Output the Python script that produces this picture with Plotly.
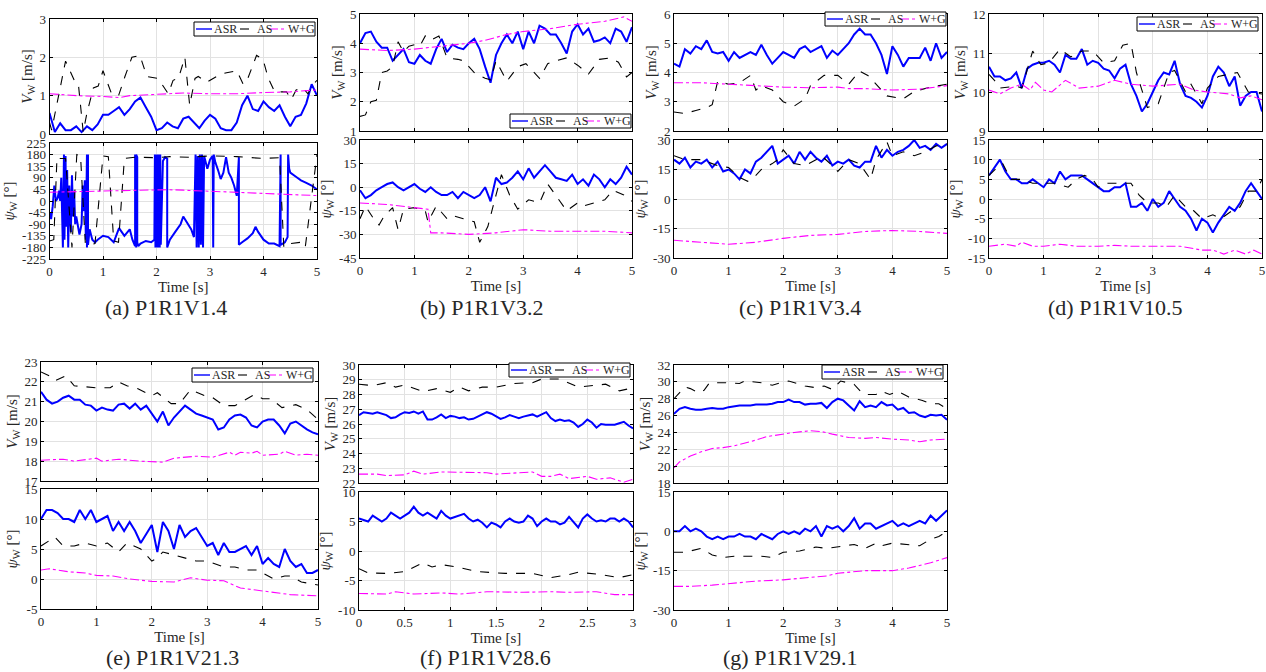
import numpy as np
import plotly.graph_objects as go

W, H = 1266, 672

# ---------------- time grids (x positions of densely sampled ASR series) ----------------
T5 = np.round(np.linspace(0, 5, 51), 2)
T3 = np.round(np.linspace(0, 3, 61), 2)

# ---------------- (a) P1R1V1.4 ----------------
a_V_asr = [0.55,0.05,0.28,0.1,0.1,0.2,0.05,0.2,0.1,0.25,0.5,0.5,0.6,0.7,0.5,0.65,0.85,0.95,0.7,0.45,
           0.1,0.15,0.3,0.2,0.15,0.4,0.45,0.3,0.15,0.35,0.5,0.4,0.15,0.1,0.1,0.3,0.75,1.0,0.65,0.6,
           0.85,0.7,0.6,0.75,0.45,0.2,0.45,0.5,0.8,1.3,1.0]
a_V_as_t = [0.0,0.04,0.3,0.48,0.54,0.63,0.7,0.82,0.91,1.0,1.16,1.29,1.41,1.54,1.69,1.82,2.03,2.22,2.31,2.41,
            2.53,2.62,2.72,2.78,2.94,3.06,3.18,3.31,3.5,3.62,3.68,3.87,3.99,4.09,4.21,4.37,4.43,4.52,4.61,4.74,
            4.83,4.93,5.0]
a_V_as = [0.3,0.1,1.9,1.35,1.3,0.05,0.55,1.2,1.25,1.65,1.05,1.0,1.5,2.0,2.05,1.5,1.45,1.05,1.4,1.45,
          2.0,0.75,1.45,1.5,1.35,1.45,1.55,1.6,1.65,1.3,1.35,2.05,1.95,1.45,1.1,1.1,1.1,0.9,1.15,1.2,
          1.05,1.3,1.4]
a_V_wg_t = [0,0.5,1.0,1.3,1.5,2.0,2.5,3.0,3.5,4.0,4.5,5.0]
a_V_wg = [1.05,1.0,0.98,0.95,1.0,1.04,1.07,1.05,1.05,1.08,1.1,1.15]

a_P_asr_t = [0,0.03,0.06,0.09,0.12,0.15,0.18,0.2,0.22,0.25,0.27,0.28,0.3,0.31,0.33,0.35,0.37,0.4,0.42,0.44,
             0.46,0.48,0.5,0.53,0.56,0.6,0.62,0.64,0.66,0.68,0.7,0.7,0.72,0.72,0.75,0.8,0.85,0.9,1.0,1.1,
             1.2,1.3,1.4,1.5,1.55,1.6,1.6,1.62,1.62,1.64,1.64,1.66,1.7,1.8,1.9,1.96,1.97,1.98,1.99,2.0,
             2.01,2.02,2.03,2.04,2.05,2.06,2.07,2.08,2.12,2.16,2.2,2.2,2.25,2.35,2.45,2.5,2.6,2.65,2.7,2.73,
             2.75,2.77,2.79,2.81,2.83,2.85,2.87,2.89,2.95,3.0,3.05,3.06,3.07,3.1,3.15,3.2,3.25,3.3,3.35,3.4,
             3.45,3.5,3.54,3.54,3.6,3.7,3.8,3.85,3.9,4.0,4.1,4.2,4.3,4.32,4.32,4.4,4.45,4.46,4.48,4.5,
             4.6,4.7,4.8,4.9,5.0]
a_P_asr = [-45,-70,-20,60,0,10,40,0,90,-180,180,-150,175,-100,120,-180,60,-120,100,-60,
           40,-90,-60,-100,-130,-90,60,-40,80,-150,180,-180,180,-170,-110,-150,-160,-150,-135,-140,
           -160,-105,-135,-110,-150,-175,180,-180,180,170,-160,-175,-165,-155,-160,-150,180,-180,180,-180,
           180,-180,180,-180,180,-180,180,-170,155,170,165,-180,-150,-120,-90,-60,-90,-110,-140,180,
           -180,175,-180,180,-170,180,-180,175,125,160,175,-180,180,150,120,85,110,170,110,90,
           60,20,170,-170,-160,-145,-125,-100,-120,-150,-165,-165,-175,180,-170,-160,-140,180,125,110,
           95,80,70,60,45]
a_P_as_t = [0,0.08,0.14,0.2,0.3,0.42,0.51,0.58,0.67,0.76,0.85,1.0,1.1,1.2,1.29,1.4,1.6,2.0,2.25,2.6,
            3.0,3.5,4.0,4.3,4.38,4.5,4.7,4.78,5.0]
a_P_as = [-155,-150,170,165,165,-180,180,175,-165,-170,-165,175,172,-155,-160,165,170,168,172,170,
          175,172,165,168,-180,-165,-160,-180,180]
a_P_wg_t = [0,0.5,1.0,1.5,2.0,2.2,2.5,3.0,3.5,4.0,4.5,5.0]
a_P_wg = [34,37,39,41,43,44,42,38,34,30,26,21]

# ---------------- (b) P1R1V3.2 ----------------
b_V_asr = [4.0,4.35,4.4,4.05,3.85,3.85,3.4,3.6,3.8,3.35,3.3,3.6,3.4,3.3,3.8,4.15,3.7,3.95,3.85,3.8,
           4.0,4.15,3.8,3.2,2.65,3.6,4.0,4.3,4.0,4.4,3.8,4.4,4.0,4.6,4.5,4.3,4.3,4.0,3.65,4.4,
           4.65,4.3,4.5,4.05,4.1,4.2,4.0,4.5,4.4,4.05,4.55]
b_V_as_t = [0,0.1,0.2,0.3,0.4,0.5,0.6,0.7,0.8,0.9,1.0,1.1,1.2,1.3,1.45,1.6,1.8,1.9,2.1,2.3,
            2.4,2.5,2.7,2.9,3.05,3.3,3.45,3.6,3.8,4.0,4.2,4.4,4.6,4.75,4.9,5.0]
b_V_as = [1.5,1.55,2.0,2.05,3.0,3.05,3.2,4.05,3.7,3.9,3.95,3.9,4.25,4.1,4.25,3.5,3.45,3.4,3.0,2.8,
          2.75,3.4,2.7,3.2,3.3,2.8,3.3,3.4,3.5,3.25,2.95,3.45,3.5,3.35,2.85,3.0]
b_V_wg_t = [0,0.5,1.0,1.5,2.0,2.3,2.7,3.0,3.5,4.0,4.5,4.85,5.0]
b_V_wg = [3.8,3.75,3.8,3.9,4.0,4.1,4.3,4.4,4.5,4.65,4.75,4.9,4.75]

b_P_asr = [-2,-7,-5,-2,0,2,3,0,-2,0,2,-1,-3,0,-3,-5,-5,-3,-7,-3,
           -5,-7,-5,0,-9,6,2,3,6,10,5,12,6,10,14,10,6,5,4,8,
           2,5,1,8,5,0,5,2,6,13,8]
b_P_as_t = [0,0.1,0.25,0.35,0.45,0.6,0.7,0.8,1.0,1.2,1.25,1.4,1.6,1.7,1.9,2.1,2.2,2.35,2.5,2.6,
            2.75,2.9,3.1,3.3,3.45,3.6,3.8,4.0,4.1,4.3,4.5,4.65,4.85,5.0]
b_P_as = [-20,-12,-20,-24,-18,-13,-27,-14,-13,-15,-22,-12,-20,-18,-20,-22,-35,-25,-5,8,
          -5,-14,-8,-10,2,-5,-15,-10,-12,-10,-8,-2,-5,-9]
b_P_wg_t = [0,0.5,1.0,1.25,1.3,1.5,2.0,2.5,3.0,3.5,4.0,4.5,5.0]
b_P_wg = [-10,-11,-13,-14,-29,-29,-30,-29,-27,-28,-28,-28,-29]

# ---------------- (c) P1R1V3.4 ----------------
c_V_asr = [4.3,4.2,4.8,4.65,4.9,4.8,5.1,4.7,4.65,4.7,4.4,4.7,4.5,4.6,4.7,4.6,4.95,4.6,4.3,4.5,
           4.7,4.6,4.5,4.8,4.9,4.7,4.8,4.9,4.5,4.75,4.6,4.8,5.0,5.3,5.5,5.3,5.3,5.0,4.6,3.95,
           4.9,4.6,4.2,4.5,4.5,4.5,4.85,4.4,5.0,4.5,4.7]
c_V_as_t = [0,0.2,0.4,0.6,0.7,0.8,1.0,1.2,1.4,1.5,1.6,1.8,2.0,2.2,2.4,2.5,2.75,3.0,3.2,3.4,
            3.55,3.7,3.9,4.2,4.4,4.7,5.0]
c_V_as = [2.65,2.6,2.7,2.8,2.9,3.7,3.6,3.65,3.9,3.4,3.55,3.4,3.0,2.85,3.1,3.55,3.9,3.9,3.6,4.05,
          3.9,3.6,3.2,3.1,3.35,3.5,3.6]
c_V_wg_t = [0,0.5,1.0,1.5,2.0,2.5,3.0,3.2,3.5,4.0,4.5,5.0]
c_V_wg = [3.65,3.65,3.6,3.55,3.5,3.48,3.5,3.45,3.45,3.4,3.43,3.55]

c_P_asr = [20,18,21,16,19,18,20,16,19,14,15,13,10,15,13,19,21,24,27,18,
           20,22,18,24,20,24,21,19,22,17,19,18,20,17,16,19,19,27,21,25,
           22,24,25,27,30,26,27,25,28,26,28]
c_P_as_t = [0,0.2,0.5,0.8,1.0,1.2,1.35,1.5,1.6,1.8,1.9,2.0,2.2,2.4,2.6,2.7,2.9,3.0,3.2,3.4,
            3.6,3.7,3.9,4.0,4.2,4.4,4.6,4.8,5.0]
c_P_as = [22,20,20,17,16,11,9,12,15,18,20,25,18,17,20,22,17,14,20,18,
          10,20,29,22,24,22,24,27,28]
c_P_wg_t = [0,0.5,1.0,1.5,2.0,2.5,3.0,3.5,3.8,4.0,4.5,5.0]
c_P_wg = [-21,-22,-23,-22,-20,-18.5,-18,-16.5,-16,-16,-16.5,-17.5]

# ---------------- (d) P1R1V10.5 ----------------
d_V_asr = [10.65,10.4,10.4,10.3,10.35,10.5,10.1,10.6,10.7,10.75,10.75,10.8,10.7,10.5,10.95,10.85,10.85,11.1,10.7,10.8,
           10.75,10.6,10.55,10.35,10.6,10.7,10.2,9.9,9.5,9.7,10.0,10.3,10.5,10.45,10.8,10.2,9.9,9.85,9.75,9.6,
           9.9,10.4,10.65,10.5,10.15,10.4,9.65,9.9,10.0,10.0,9.5]
d_V_as_t = [0,0.1,0.2,0.5,0.6,0.7,0.8,0.95,1.1,1.3,1.5,1.7,1.9,2.1,2.3,2.45,2.6,2.7,2.9,3.1,
            3.3,3.4,3.6,3.7,3.9,4.0,4.2,4.55,4.75,5.0]
d_V_as = [10.45,10.3,10.1,10.15,10.1,10.6,11.05,10.7,10.75,11.1,10.9,11.05,11.05,10.75,10.8,11.2,11.25,10.5,9.6,9.7,
          10.5,10.55,10.0,10.2,9.7,10.1,10.4,10.5,10.0,9.95]
d_V_wg_t = [0,0.2,0.4,0.6,0.75,0.85,1.0,1.15,1.4,1.65,2.0,2.3,2.6,3.0,3.5,3.75,4.0,4.2,4.4,4.6,4.8,5.0]
d_V_wg = [10.05,9.95,10.1,10.2,10.05,10.25,10.05,10.0,10.3,10.1,10.15,10.3,10.2,10.15,10.2,10.05,10.0,9.97,9.95,9.85,9.9,9.8]

d_P_asr = [6,8,10,7,5,5,4,4,5,4,3,5,4,7,5,6,6,6,5,4,
           3,2,2,3,3,4,-2,-2,-1,-3,0,-2,-1,2,0,-2,-3,-5,-8,-5,
           -6,-8.5,-6,-4,-2,-3,-1,2,4,2,0]
d_P_as_t = [0,0.15,0.25,0.4,0.6,0.8,1.0,1.2,1.45,1.6,1.75,1.9,2.0,2.1,2.3,2.6,2.75,2.9,3.1,3.25,
            3.4,3.6,3.75,3.9,4.1,4.25,4.45,4.6,4.75,4.9,5.0]
d_P_as = [6,8,9,5,5,4,4,4,3,5,6,5,3,4,4,4,1,-1,-1,-2,
          1,-2,-3,-5,-4,-5,-3,-2,2,2,5]
d_P_wg_t = [0,0.3,0.5,0.6,0.8,1.0,1.3,1.6,2.0,2.3,2.6,3.0,3.5,3.9,4.1,4.3,4.5,4.7,4.85,5.0]
d_P_wg = [-12,-11.5,-12,-11,-12,-12,-11.5,-12,-12,-11.8,-12,-12,-12,-13,-13,-14,-13,-14,-13,-14]

# ---------------- (e) P1R1V21.3 ----------------
e_V_asr = [21.5,21.1,20.9,21.0,21.2,21.3,21.1,21.1,20.85,20.8,20.55,20.7,20.6,20.55,20.85,20.9,20.65,20.9,20.6,20.8,
           20.4,20.0,20.5,19.8,20.2,20.5,20.8,20.6,20.4,20.3,20.2,20.1,19.6,19.7,20.1,20.3,20.35,20.2,19.8,19.7,
           20.0,20.1,20.1,19.8,19.4,19.9,20.0,19.8,19.6,19.45,19.35]
e_V_as_t = [0,0.15,0.25,0.45,0.6,0.75,1.0,1.25,1.4,1.55,1.75,2.0,2.1,2.35,2.5,2.7,3.0,3.1,3.3,3.5,
            3.85,4.0,4.15,4.35,4.6,4.8,5.0]
e_V_as = [22.5,22.3,22.05,22.3,21.8,21.75,21.7,21.7,22.0,21.8,21.65,21.3,21.45,20.9,20.9,21.6,21.25,21.2,20.8,20.8,
          21.35,21.15,21.15,20.7,20.85,20.6,20.1]
e_V_wg_t = [0,0.4,0.6,1.0,1.1,1.4,1.8,2.2,2.4,2.8,3.1,3.4,3.5,3.6,3.8,3.9,4.0,4.3,4.4,4.6,4.8,5.0]
e_V_wg = [18.05,18.1,18.0,18.15,18.0,18.1,18.0,17.95,18.15,18.25,18.2,18.45,18.3,18.45,18.4,18.5,18.3,18.35,18.5,18.3,18.35,18.3]

e_P_asr = [10,11.5,11.5,11,10,10,9.5,11.5,10,11.5,9.5,10,10.5,8,9.5,8,9.5,8,6,7.5,
           9,4.5,9.5,8,5,9,7,8,8.5,7,5.5,6,4,6,4.5,4.5,5,5.5,4,5.5,
           2.5,3.5,2.5,2,5,3,2,2.5,1,1,1.5]
e_P_as_t = [0,0.25,0.4,0.6,0.8,1.0,1.2,1.4,1.55,1.8,2.0,2.1,2.2,2.4,2.6,2.8,3.0,3.3,3.5,3.7,
            3.9,4.0,4.2,4.4,4.5,4.7,5.0]
e_P_as = [5.5,7,5.5,5.5,6,5.5,6,4.5,6,5,3,3.5,4.5,4,3.5,3,3,2,2,1.5,
          1.5,1,0,0.5,0.5,-0.5,-1]
e_P_wg_t = [0,0.15,0.5,0.8,1.0,1.3,1.6,2.0,2.4,2.7,3.0,3.3,3.6,4.0,4.2,4.5,5.0]
e_P_wg = [1.5,1.7,1.2,1.0,0.6,0.5,0,-0.4,-0.5,0.2,-0.2,-0.3,-1.5,-2,-2.2,-2.6,-2.8]

# ---------------- (f) P1R1V28.6 ----------------
f_V_asr = [26.6,26.8,26.75,26.7,26.8,26.7,26.6,26.4,26.45,26.65,26.8,26.75,26.85,26.7,26.85,26.3,26.3,26.45,26.65,26.4,
           26.55,26.5,26.4,26.45,26.3,26.35,26.5,26.65,26.8,26.7,26.55,26.35,26.45,26.6,26.5,26.4,26.5,26.55,26.65,26.5,
           26.65,26.8,26.4,26.2,26.3,26.2,26.25,26.1,25.8,26.0,26.3,26.1,25.75,26.0,25.95,25.95,25.95,26.05,26.15,25.9,
           25.7]
f_V_as_t = [0,0.15,0.3,0.4,0.5,0.7,0.85,1.0,1.1,1.2,1.35,1.5,1.7,1.9,2.0,2.2,2.4,2.6,2.7,2.85,3.0]
f_V_as = [28.7,28.6,28.8,28.5,28.65,28.2,28.4,28.15,28.5,28.25,28.5,28.5,28.75,28.8,29.05,29.05,28.5,28.6,28.7,28.25,28.45]
f_V_wg_t = [0,0.2,0.3,0.5,0.6,0.7,0.9,1.2,1.4,1.5,1.7,1.9,2.0,2.1,2.2,2.3,2.5,2.6,2.75,2.9,3.0]
f_V_wg = [22.6,22.6,22.5,22.55,22.8,22.6,22.75,22.7,22.7,22.6,22.7,22.75,22.45,22.45,22.6,22.3,22.45,22.25,22.35,22.05,22.25]

f_P_asr = [5.5,5.3,5.0,6.0,5.5,5.0,5.5,6.5,6.0,5.5,6.0,6.5,7.5,6.5,6.0,6.5,6.0,5.5,6.8,6.0,
           5.5,5.8,6.0,6.3,5.5,5.0,5.3,4.8,4.0,4.8,4.5,4.0,5.0,5.5,5.0,4.8,5.0,6.0,5.5,4.2,
           5.0,5.5,5.0,5.0,4.5,4.8,5.8,4.8,4.0,5.5,6.2,5.5,5.0,5.2,5.0,5.5,5.5,5.0,5.5,5.0,
           4.0]
f_P_as_t = [0,0.1,0.3,0.5,0.7,0.8,0.9,1.1,1.3,1.6,1.9,2.1,2.3,2.4,2.6,2.85,3.0]
f_P_as = [-3,-3.7,-3.8,-3.5,-2,-2.7,-2.3,-2.8,-3.5,-3.8,-3.8,-4.5,-4,-3.6,-3.9,-4.5,-4]
f_P_wg_t = [0,0.3,0.4,0.6,0.9,1.1,1.4,1.8,2.1,2.3,2.6,2.8,3.0]
f_P_wg = [-7.2,-7.3,-6.9,-7.3,-7.1,-7.3,-6.9,-7.0,-6.9,-7.0,-6.9,-7.4,-7.4]

# ---------------- (g) P1R1V29.1 ----------------
g_V_asr = [26.2,26.8,27.0,26.8,26.7,26.7,26.8,26.9,26.8,26.8,27.0,27.1,27.2,27.2,27.2,27.3,27.3,27.3,27.4,27.6,
           27.6,27.9,27.6,27.6,27.3,27.4,27.4,27.5,26.9,27.6,28.0,27.8,27.2,26.6,27.7,27.0,27.2,27.0,27.6,27.2,
           27.3,26.7,26.9,26.3,26.4,26.0,25.8,26.1,26.0,26.1,25.5]
g_V_as_t = [0,0.2,0.3,0.45,0.55,0.65,1.0,1.2,1.3,1.6,1.8,2.0,2.1,2.4,2.6,2.75,2.9,3.05,3.3,3.4,
            3.5,3.7,3.8,3.95,4.1,4.3,4.55,4.7,4.85,5.0]
g_V_as = [28,29.4,29.2,28.7,29.0,29.9,29.9,29.8,30.1,29.9,29.6,30.0,30.1,29.5,29.3,29.5,29.1,30.1,29.7,29.0,
          28.5,28.5,28.9,28.5,28.9,28.2,27.8,27.4,27.4,26.8]
g_V_wg_t = [0,0.1,0.3,0.5,0.7,0.9,1.1,1.4,1.7,2.0,2.2,2.5,2.7,2.9,3.2,3.5,3.7,4.0,4.3,4.5,4.7,5.0]
g_V_wg = [19.8,20.5,21.2,21.7,22.1,22.2,22.4,22.9,23.5,23.8,24.0,24.2,24.1,23.8,23.4,23.3,23.4,23.2,23.1,22.9,23.1,23.2]

g_P_asr = [0,0,2,0,1,0,-2,-3,-2,-3,-2,-2,-1,-2,-2,-3,-1,-2,-3,-1,
           0,-1,0,-1,1,0,2,-2,2,1,2,0,2,5,1,3,3,1,2,3,
           4,2,3,2,3,4,3,6,4,6,8]
g_P_as_t = [0,0.2,0.5,0.7,0.9,1.1,1.3,1.6,1.8,2.0,2.3,2.6,2.8,3.0,3.3,3.5,3.7,3.8,4.0,4.5,4.7,4.85,5.0]
g_P_as = [-8,-8,-6.5,-9,-10,-9.5,-9.5,-9.5,-10,-8,-7.5,-6,-6.5,-6,-5,-6.5,-4.5,-5.5,-4.5,-5.5,-3,-2,0]
g_P_wg_t = [0,0.3,0.7,1.0,1.5,2.0,2.5,2.8,3.0,3.5,4.0,4.3,4.7,5.0]
g_P_wg = [-21,-21,-20.5,-20,-19,-18.5,-17.5,-17,-16,-15,-15,-14,-12,-10]

# ---------------- tick values ----------------
X5_TICKS = [0, 1, 2, 3, 4, 5]
X3_TICKS = [0, 0.5, 1, 1.5, 2, 2.5, 3]

SERIES_NAMES = ["ASR", "AS", "W+G"]
STYLES = [dict(color="#0000FF", width=2.0, dash="solid"),
          dict(color="#000000", width=1.1, dash="dash"),
          dict(color="#FF00FF", width=1.1, dash="dashdot")]

panels = [
    dict(cap="(a) P1R1V1.4", cx=166, cy=308, box=(49.5, 317, 19, 134, 143, 259), xmax=5, xt=X5_TICKS,
         vr=[0, 3], vt=[0, 1, 2, 3], pr=[-225, 225], pt=[-225, -180, -135, -90, -45, 0, 45, 90, 135, 180, 225],
         V=[(T5, a_V_asr), (a_V_as_t, a_V_as), (a_V_wg_t, a_V_wg)],
         P=[(a_P_asr_t, a_P_asr), (a_P_as_t, a_P_as), (a_P_wg_t, a_P_wg)],
         leg=(315, 22)),
    dict(cap="(b) P1R1V3.2", cx=481, cy=308, box=(360, 632, 14, 131, 140, 258), xmax=5, xt=X5_TICKS,
         vr=[1, 5], vt=[1, 2, 3, 4, 5], pr=[-45, 30], pt=[-45, -30, -15, 0, 15, 30],
         V=[(T5, b_V_asr), (b_V_as_t, b_V_as), (b_V_wg_t, b_V_wg)],
         P=[(T5, b_P_asr), (b_P_as_t, b_P_as), (b_P_wg_t, b_P_wg)],
         leg=(631, 114)),
    dict(cap="(c) P1R1V3.4", cx=800, cy=308, box=(674, 947, 14, 131, 140, 258), xmax=5, xt=X5_TICKS,
         vr=[2, 6], vt=[2, 3, 4, 5, 6], pr=[-30, 30], pt=[-30, -15, 0, 15, 30],
         V=[(T5, c_V_asr), (c_V_as_t, c_V_as), (c_V_wg_t, c_V_wg)],
         P=[(T5, c_P_asr), (c_P_as_t, c_P_as), (c_P_wg_t, c_P_wg)],
         leg=(946, 12)),
    dict(cap="(d) P1R1V10.5", cx=1115, cy=308, box=(989, 1262, 14, 131, 140, 258), xmax=5, xt=X5_TICKS,
         vr=[9, 12], vt=[9, 10, 11, 12], pr=[-15, 15], pt=[-15, -10, -5, 0, 5, 10, 15],
         V=[(T5, d_V_asr), (d_V_as_t, d_V_as), (d_V_wg_t, d_V_wg)],
         P=[(T5, d_P_asr), (d_P_as_t, d_P_as), (d_P_wg_t, d_P_wg)],
         leg=(1258, 17)),
    dict(cap="(e) P1R1V21.3", cx=172, cy=657, box=(41, 318, 362, 481, 489, 609), xmax=5, xt=X5_TICKS,
         vr=[17, 23], vt=[17, 18, 19, 20, 21, 22, 23], pr=[-5, 15], pt=[-5, 0, 5, 10, 15],
         V=[(T5, e_V_asr), (e_V_as_t, e_V_as), (e_V_wg_t, e_V_wg)],
         P=[(T5, e_P_asr), (e_P_as_t, e_P_as), (e_P_wg_t, e_P_wg)],
         leg=(313, 368)),
    dict(cap="(f) P1R1V28.6", cx=485, cy=657, box=(359, 633, 365, 483, 492, 610), xmax=3, xt=X3_TICKS,
         vr=[22, 30], vt=[22, 23, 24, 25, 26, 27, 28, 29, 30], pr=[-10, 10], pt=[-10, -5, 0, 5, 10],
         V=[(T3, f_V_asr), (f_V_as_t, f_V_as), (f_V_wg_t, f_V_wg)],
         P=[(T3, f_P_asr), (f_P_as_t, f_P_as), (f_P_wg_t, f_P_wg)],
         leg=(630, 363)),
    dict(cap="(g) P1R1V29.1", cx=790, cy=657, box=(674, 947, 365, 483, 492, 610), xmax=5, xt=X5_TICKS,
         vr=[18, 32], vt=[18, 20, 22, 24, 26, 28, 30, 32], pr=[-30, 15], pt=[-30, -15, 0, 15],
         V=[(T5, g_V_asr), (g_V_as_t, g_V_as), (g_V_wg_t, g_V_wg)],
         P=[(T5, g_P_asr), (g_P_as_t, g_P_as), (g_P_wg_t, g_P_wg)],
         leg=(943, 365)),
]

FONT = "Liberation Serif, DejaVu Serif, serif"
INK = "#262626"
TICKFONT = dict(family=FONT, size=13, color=INK)
GRID = "#e2e2e2"

# legend-key layout (px offsets from the box's left edge), box size
LEG_W, LEG_H = 121, 14
LEG_KEYS = [(2, 18, 19), (46, 61, 62), (75, 92, 93)]   # (line start, line end, text start)


def fmt(v):
    return "%g" % v


def px_x(v):
    return v / W


def px_y(v):
    return 1 - v / H


fig = go.Figure()
shapes, annotations = [], []
layout = dict(width=W, height=H, margin=dict(l=0, r=0, t=0, b=0, autoexpand=False),
              paper_bgcolor="white", plot_bgcolor="white", showlegend=False,
              font=dict(family=FONT, color=INK))

for p, pan in enumerate(panels):
    left, right, t1, b1, t2, b2 = pan["box"]
    idx_top, idx_bot = 2 * p + 1, 2 * p + 2
    for k, (idx, key, yr, yt, ytitle, ya, yb) in enumerate([
            (idx_top, "V", pan["vr"], pan["vt"], "<i>V</i><sub>W</sub> [m/s]", t1, b1),
            (idx_bot, "P", pan["pr"], pan["pt"], "<i>ψ</i><sub>W</sub> [°]", t2, b2)]):
        xname = "xaxis" if idx == 1 else "xaxis%d" % idx
        yname = "yaxis" if idx == 1 else "yaxis%d" % idx
        xref = "x" if idx == 1 else "x%d" % idx
        yref = "y" if idx == 1 else "y%d" % idx
        common = dict(showline=True, linecolor="black", linewidth=1, mirror="ticks",
                      ticks="inside", ticklen=3, tickcolor="black", showgrid=True,
                      gridcolor=GRID, gridwidth=1, zeroline=False, tickfont=TICKFONT,
                      automargin=False)
        xa = dict(common, domain=[px_x(left), px_x(right)], range=[0, pan["xmax"]], anchor=yref,
                  tickvals=pan["xt"], ticktext=[fmt(v) for v in pan["xt"]],
                  showticklabels=(k == 1))
        if k == 1:
            xa["title"] = dict(text="Time [s]", font=dict(family=FONT, size=15, color=INK), standoff=0)
        ya_d = dict(common, domain=[px_y(yb), px_y(ya)], range=yr, anchor=xref,
                    tickvals=yt, ticktext=[fmt(v) for v in yt],
                    title=dict(text=ytitle, font=dict(family=FONT, size=15, color=INK), standoff=3))
        layout[xname] = xa
        layout[yname] = ya_d
        for s, (xs, ys) in enumerate(pan[key]):
            fig.add_trace(go.Scatter(x=list(xs), y=ys, mode="lines", name=SERIES_NAMES[s],
                                     line=STYLES[s], xaxis=xref, yaxis=yref, showlegend=False))

    # legend box drawn as in the original (one per upper panel)
    lr, lt = pan["leg"]
    ll = lr - LEG_W
    shapes.append(dict(type="rect", xref="paper", yref="paper",
                       x0=px_x(ll), x1=px_x(lr), y0=px_y(lt + LEG_H), y1=px_y(lt),
                       fillcolor="white", line=dict(color="black", width=1), layer="above"))
    ymid = lt + LEG_H / 2
    for s, (x0, x1, xt0) in enumerate(LEG_KEYS):
        st = STYLES[s]
        shapes.append(dict(type="line", xref="paper", yref="paper",
                           x0=px_x(ll + x0), x1=px_x(ll + x1), y0=px_y(ymid), y1=px_y(ymid),
                           line=dict(color=st["color"], width=min(st["width"], 1.4), dash=st["dash"]),
                           layer="above"))
        annotations.append(dict(text=SERIES_NAMES[s], x=px_x(ll + xt0), y=px_y(ymid),
                                xref="paper", yref="paper", showarrow=False,
                                xanchor="left", yanchor="middle", borderpad=0,
                                font=dict(family=FONT, size=12, color=INK)))

    annotations.append(dict(text=pan["cap"], x=px_x(pan["cx"]), y=px_y(pan["cy"]),
                            xref="paper", yref="paper", showarrow=False,
                            xanchor="center", yanchor="middle",
                            font=dict(family=FONT, size=22, color=INK)))

layout["shapes"] = shapes
layout["annotations"] = annotations
fig.update_layout(**layout)
# remove the browser's default 8px page margin so the figure sits at the window origin
fig.write_html("out.html", config={"displayModeBar": False},
               post_script="document.body.style.margin='0px';document.body.style.overflow='hidden';")
